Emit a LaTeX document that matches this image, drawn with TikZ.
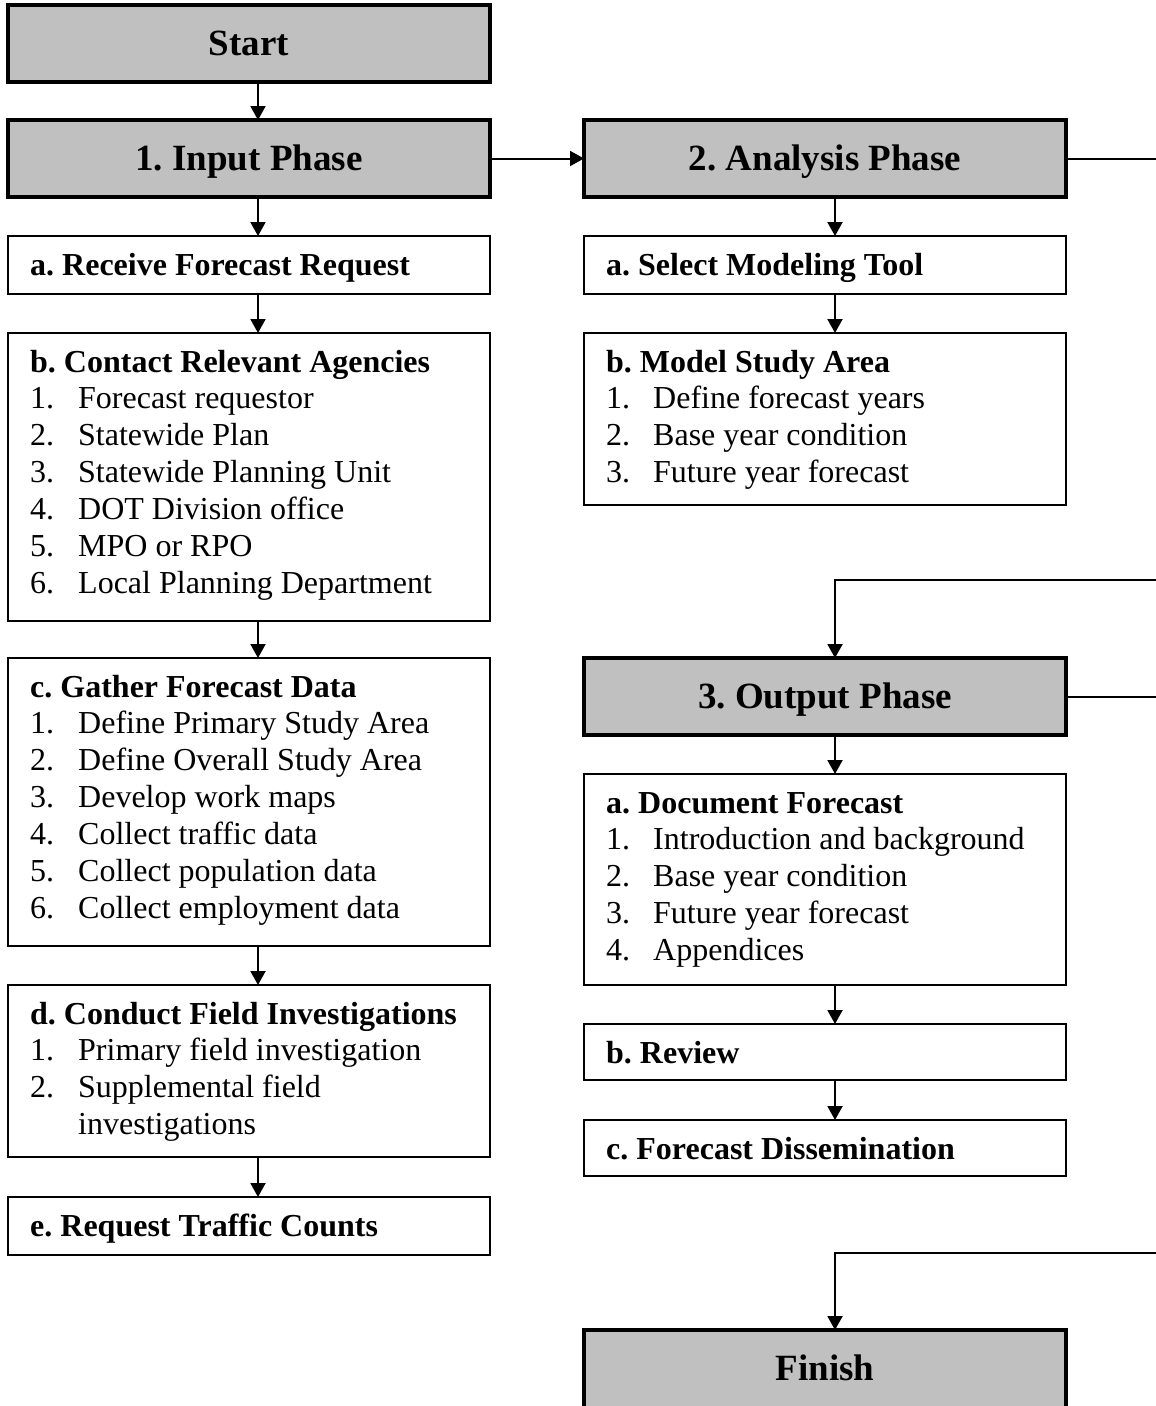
\documentclass[tikz,border=0pt]{standalone}
\usepackage{fontspec}
\setmainfont{Liberation Serif}
\usetikzlibrary{arrows.meta,calc}
\definecolor{hdrgray}{HTML}{C0C0C0}
\newcommand\listitems[3]{%
  \foreach \t [count=\i] in {#3}{%
    \node[itm] (#1-n\i) at ($(#1.north west)+(22,38+37*\i)$) {\i.};
    \node[itm] (#1-t\i) at ($(#1.north west)+(#2,38+37*\i)$) {\t};
  }}
\begin{document}
\frenchspacing
\begin{tikzpicture}[x=1pt,y=-1pt,
  hdr/.style={draw, line width=3.5pt, fill=hdrgray, inner sep=0pt, outer sep=0pt, anchor=north west, minimum width=482pt, minimum height=77pt},
  box/.style={draw, line width=2pt, fill=white, inner sep=0pt, outer sep=0pt, anchor=north west, minimum width=482pt},
  hdrtext/.style={inner sep=0pt, anchor=base, font=\fontsize{37}{44}\selectfont\bfseries},
  head/.style={inner sep=0pt, anchor=base west, font=\fontsize{32}{37}\selectfont\bfseries},
  itm/.style={inner sep=0pt, anchor=base west, font=\fontsize{32}{37}\selectfont},
  ln/.style={line width=2pt},
  arr/.style={line width=2pt, -{Triangle[length=14pt,width=15pt]}}]
\useasboundingbox (0,0) rectangle (1156,1406);
% left column
\node[hdr] (start) at (8,5) {};
\node[hdrtext] (start-t) at ($(start.center)+(0,12)$) {Start};
\node[hdr] (input) at (8,120) {};
\node[hdrtext] (input-t) at ($(input.center)+(0,12)$) {1. Input Phase};
\node[box, minimum height=58pt] (receive) at (8,236) {};
\node[head] (receive-t) at ($(receive.north west)+(22,39)$) {a. Receive Forecast Request};
\node[box, minimum height=288pt] (contact) at (8,333) {};
\node[head] (contact-t) at ($(contact.north west)+(22,39)$) {b. Contact Relevant Agencies};
\listitems{contact}{70}{Forecast requestor, Statewide Plan, Statewide Planning Unit, DOT Division office, MPO or RPO, Local Planning Department}
\node[box, minimum height=288pt] (gather) at (8,658) {};
\node[head] (gather-t) at ($(gather.north west)+(22,39)$) {c. Gather Forecast Data};
\listitems{gather}{70}{Define Primary Study Area, Define Overall Study Area, Develop work maps, Collect traffic data, Collect population data, Collect employment data}
\node[box, minimum height=172pt] (conduct) at (8,985) {};
\node[head] (conduct-t) at ($(conduct.north west)+(22,39)$) {d. Conduct Field Investigations};
\listitems{conduct}{70}{Primary field investigation, Supplemental field}
\node[itm] (conduct-t2b) at ($(conduct.north west)+(70,38+37*3)$) {investigations};
\node[box, minimum height=58pt] (request) at (8,1197) {};
\node[head] (request-t) at ($(request.north west)+(22,39)$) {e. Request Traffic Counts};
% right column
\node[hdr] (analysis) at (584,120) {};
\node[hdrtext] (analysis-t) at ($(analysis.center)+(0,12)$) {2. Analysis Phase};
\node[box, minimum height=58pt] (select) at (584,236) {};
\node[head] (select-t) at ($(select.north west)+(22,39)$) {a. Select Modeling Tool};
\node[box, minimum height=172pt] (model) at (584,333) {};
\node[head] (model-t) at ($(model.north west)+(22,39)$) {b. Model Study Area};
\listitems{model}{69}{Define forecast years, Base year condition, Future year forecast}
\node[hdr] (output) at (584,658) {};
\node[hdrtext] (output-t) at ($(output.center)+(0,12)$) {3. Output Phase};
\node[box, minimum height=211pt] (document) at (584,774) {};
\node[head] (document-t) at ($(document.north west)+(22,39)$) {a. Document Forecast};
\listitems{document}{69}{Introduction and background, Base year condition, Future year forecast, Appendices}
\node[box, minimum height=56pt] (review) at (584,1024) {};
\node[head] (review-t) at ($(review.north west)+(22,39)$) {b. Review};
\node[box, minimum height=56pt] (dissem) at (584,1120) {};
\node[head] (dissem-t) at ($(dissem.north west)+(22,39)$) {c. Forecast Dissemination};
\node[hdr, minimum height=80pt] (finish) at (584,1330) {};
\node[hdrtext] (finish-t) at ($(finish.north)+(0,50)$) {Finish};
% connector helpers
\coordinate (xl) at (258,0);
\coordinate (xr) at (835,0);
\coordinate (ea) at (1160,0);
\coordinate (ro) at (1160,580);
\coordinate (rf) at (1160,1253);
% left connectors
\draw[arr] (start.south -| xl) -- (input.north -| xl);
\draw[arr] (input.south -| xl) -- (receive.north -| xl);
\draw[arr] (receive.south -| xl) -- (contact.north -| xl);
\draw[arr] (contact.south -| xl) -- (gather.north -| xl);
\draw[arr] (gather.south -| xl) -- (conduct.north -| xl);
\draw[arr] (conduct.south -| xl) -- (request.north -| xl);
% across
\draw[arr] (input.east) -- (analysis.west);
\draw[ln] (analysis.east) -- (analysis.east -| ea);
% right connectors
\draw[arr] (analysis.south -| xr) -- (select.north -| xr);
\draw[arr] (select.south -| xr) -- (model.north -| xr);
\draw[arr] (ro) -| (output.north -| xr);
\draw[ln] (output.east) -- (output.east -| ea);
\draw[arr] (output.south -| xr) -- (document.north -| xr);
\draw[arr] (document.south -| xr) -- (review.north -| xr);
\draw[arr] (review.south -| xr) -- (dissem.north -| xr);
\draw[arr] (rf) -| (finish.north -| xr);
\end{tikzpicture}
\end{document}
